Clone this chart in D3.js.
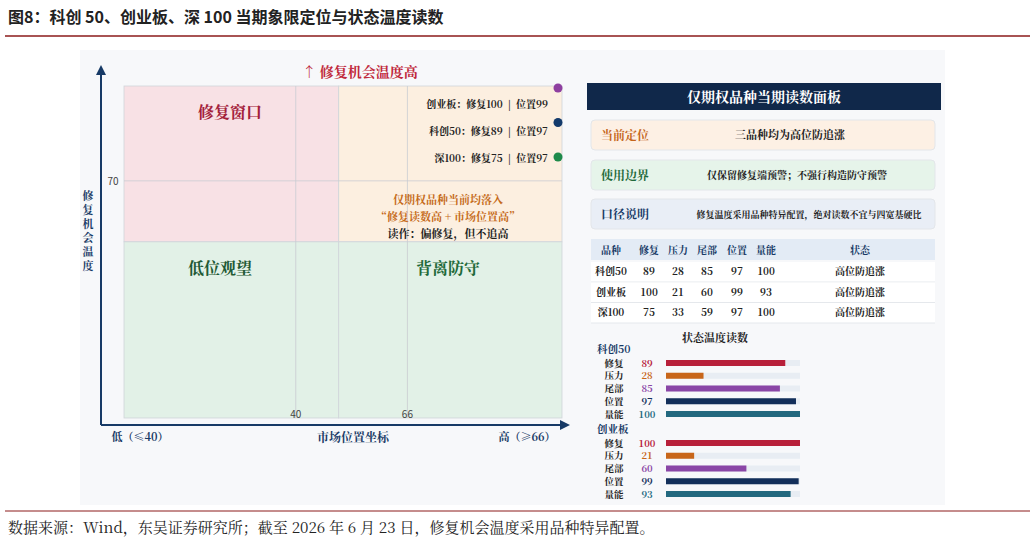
<!DOCTYPE html><html><head><meta charset="utf-8"><script src="https://cdn.jsdelivr.net/npm/d3@7"></script>
<style>body{margin:0;background:#fff}svg{font-family:"Noto Serif CJK SC","Noto Sans CJK SC",serif}</style></head><body>
<svg id="c" width="1034" height="545"></svg>
<script>
const products=["科创50","创业板","深100"];
const metrics=["修复","压力","尾部","位置","量能"];
const values={"科创50":[89,28,85,97,100],"创业板":[100,21,60,99,93],"深100":[75,33,59,97,100]};
const states=["高位防追涨","高位防追涨","高位防追涨"];
const dotOrder=["创业板","科创50","深100"];
const dotColors=["#8e3fa0","#133a6b","#1e8a4a"];
const barColors=["#b8203a","#c8661a","#8a46a6","#132f5a","#23697f"];
const xTicks=[40,66], yTicks=[70];
const F='"Noto Sans CJK SC",sans-serif';
const svg=d3.select("#c");
svg.append("text").attr("x",8).attr("y",23).attr("font-size",16).attr("font-weight","bold").attr("font-family",F).attr("fill","#222").text("图8：科创 50、创业板、深 100 当期象限定位与状态温度读数");
svg.append("line").attr("x1",5).attr("x2",1030).attr("y1",36).attr("y2",36).attr("stroke","#8b1a1a").attr("stroke-width",1.5);
svg.append("line").attr("x1",5).attr("x2",1030).attr("y1",511).attr("y2",511).attr("stroke","#8b1a1a").attr("stroke-width",1);
svg.append("text").attr("x",8).attr("y",533).attr("font-size",15).attr("fill","#222").text("数据来源：Wind，东吴证券研究所；截至 2026 年 6 月 23 日，修复机会温度采用品种特异配置。");
svg.append("rect").attr("x",80).attr("y",50).attr("width",865).attr("height",455).attr("fill","#f7f8fa");
const x=d3.scaleLinear().domain([0,102]).range([124,562]);
const y=d3.scaleLinear().domain([0,98]).range([418,86]);
const q=[[0,50,52,98,"#f8e1e5"],[50,102,52,98,"#fcefe0"],[0,50,0,52,"#e2f1e7"],[50,102,0,52,"#e2f1e7"]];
q.forEach(d=>svg.append("rect").attr("x",x(d[0])).attr("y",y(d[3])).attr("width",x(d[1])-x(d[0])).attr("height",y(d[2])-y(d[3])).attr("fill",d[4]).attr("stroke","#d0d4da").attr("stroke-width",0.8));
xTicks.forEach(t=>{svg.append("line").attr("x1",x(t)).attr("x2",x(t)).attr("y1",86).attr("y2",418).attr("stroke","#c9ccd2").attr("stroke-width",0.8);
 svg.append("text").attr("x",x(t)).attr("y",418).attr("text-anchor","middle").attr("font-size",10).attr("font-family",F).attr("fill","#444").text(t);});
yTicks.forEach(t=>{svg.append("line").attr("x1",124).attr("x2",562).attr("y1",y(t)).attr("y2",y(t)).attr("stroke","#c9ccd2").attr("stroke-width",0.8);
 svg.append("text").attr("x",113).attr("y",y(t)+4).attr("text-anchor","middle").attr("font-size",10).attr("font-family",F).attr("fill","#444").text(t);});
svg.append("defs").append("marker").attr("id","ar").attr("viewBox","0 0 10 10").attr("refX",5).attr("refY",5).attr("markerWidth",5).attr("markerHeight",5).attr("orient","auto-start-reverse").append("path").attr("d","M0,0L10,5L0,10z").attr("fill","#173a66");
svg.append("line").attr("x1",101).attr("y1",425).attr("x2",101).attr("y2",70).attr("stroke","#173a66").attr("stroke-width",2).attr("marker-end","url(#ar)");
svg.append("line").attr("x1",101).attr("y1",425).attr("x2",565).attr("y2",425).attr("stroke","#173a66").attr("stroke-width",2).attr("marker-end","url(#ar)");
svg.append("text").attr("x",140).attr("y",441).attr("text-anchor","middle").attr("font-size",11).attr("fill","#173a66").attr("font-weight","bold").text("低（≤40）");
svg.append("text").attr("x",353).attr("y",442).attr("text-anchor","middle").attr("font-size",12).attr("fill","#173a66").attr("font-weight","bold").text("市场位置坐标");
svg.append("text").attr("x",527).attr("y",441).attr("text-anchor","middle").attr("font-size",11).attr("fill","#173a66").attr("font-weight","bold").text("高（≥66）");
"修复机会温度".split("").forEach((c,i)=>svg.append("text").attr("x",88).attr("y",200+i*14).attr("text-anchor","middle").attr("font-size",11).attr("font-weight","bold").attr("fill","#173a66").text(c));
svg.append("text").attr("x",360).attr("y",77).attr("text-anchor","middle").attr("font-size",14).attr("font-weight","bold").attr("fill","#c0283a").text("↑ 修复机会温度高");
svg.append("text").attr("x",230).attr("y",118).attr("text-anchor","middle").attr("font-size",16).attr("font-weight","bold").attr("fill","#a3203a").text("修复窗口");
svg.append("text").attr("x",220).attr("y",274).attr("text-anchor","middle").attr("font-size",16).attr("font-weight","bold").attr("fill","#1f5a35").text("低位观望");
svg.append("text").attr("x",448).attr("y",274).attr("text-anchor","middle").attr("font-size",16).attr("font-weight","bold").attr("fill","#1f6a3a").text("背离防守");
[["仅期权品种当前均落入",204,"#c56a18"],["“修复读数高 + 市场位置高”",221,"#c56a18"],["读作：偏修复，但不追高",238,"#222"]].forEach(d=>svg.append("text").attr("x",448).attr("y",d[1]).attr("text-anchor","middle").attr("font-size",11).attr("font-weight","bold").attr("fill",d[2]).text(d[0]));
const ly=d3.scalePoint().domain(dotOrder).range([104,158]);
const dy=d3.scalePoint().domain(dotOrder).range([88,157]);
dotOrder.forEach((p,i)=>{const v=values[p];
 svg.append("text").attr("x",548).attr("y",ly(p)+4).attr("text-anchor","end").attr("font-size",10).attr("font-weight","bold").attr("fill","#222").attr("xml:space","preserve").text(`${p}：修复${v[0]}  |  位置${v[3]}`);
 svg.append("circle").attr("cx",558).attr("cy",dy(p)).attr("r",4.5).attr("fill",dotColors[i]);});
svg.append("rect").attr("x",587).attr("y",83).attr("width",354).attr("height",27).attr("fill","#10284a");
svg.append("text").attr("x",764).attr("y",102).attr("text-anchor","middle").attr("font-size",14).attr("font-weight","bold").attr("fill","#fff").text("仅期权品种当期读数面板");
[[120,"#fdf0e4","当前定位","#c5661a","三品种均为高位防追涨",790,11],[160,"#e6f4ea","使用边界","#1f6a3a","仅保留修复端预警；不强行构造防守预警",797,10],[199,"#e9eef6","口径说明","#173a66","修复温度采用品种特异配置，绝对读数不宜与四宽基硬比",809,9]].forEach(d=>{
 svg.append("rect").attr("x",591).attr("y",d[0]).attr("width",344).attr("height",30).attr("rx",4).attr("fill",d[1]).attr("stroke","#e3e6ea");
 svg.append("text").attr("x",601).attr("y",d[0]+20).attr("font-size",12).attr("font-weight","bold").attr("fill",d[3]).text(d[2]);
 svg.append("text").attr("x",d[5]).attr("y",d[0]+19).attr("text-anchor","middle").attr("font-size",d[6]).attr("font-weight","bold").attr("fill","#222").text(d[4]);});
const cols=[611,649,678,707,737,766,860];
svg.append("rect").attr("x",591).attr("y",239).attr("width",344).attr("height",21).attr("fill","#e3ebf5");
["品种",...metrics,"状态"].forEach((h,i)=>svg.append("text").attr("x",cols[i]).attr("y",254).attr("text-anchor","middle").attr("font-size",10).attr("font-weight","bold").attr("fill","#173a66").text(h));
const ry=d3.scalePoint().domain(products).range([275,316]);
products.forEach((p,k)=>{svg.append("rect").attr("x",591).attr("y",ry(p)-13).attr("width",344).attr("height",20).attr("fill","#fff");
 svg.append("line").attr("x1",591).attr("x2",935).attr("y1",ry(p)+7).attr("y2",ry(p)+7).attr("stroke","#e5e8ec");
 [p,...values[p],states[k]].forEach((t,i)=>svg.append("text").attr("x",cols[i]).attr("y",ry(p)).attr("text-anchor","middle").attr("font-size",10).attr("font-weight","bold").attr("fill","#222").text(t));});
svg.append("text").attr("x",715).attr("y",342).attr("text-anchor","middle").attr("font-size",11).attr("font-weight","bold").attr("fill","#222").text("状态温度读数");
const bx=d3.scaleLinear().domain([0,100]).range([666,800]);
[["科创50",353],["创业板",433]].forEach(([p,gy])=>{
 svg.append("text").attr("x",597).attr("y",gy).attr("font-size",10.5).attr("font-weight","bold").attr("fill","#173a66").text(p);
 const rb=d3.scalePoint().domain(metrics).range([gy+10,gy+61]);
 metrics.forEach((m,i)=>{const v=values[p][i],yy=rb(m);
  svg.append("text").attr("x",614).attr("y",yy+3.5).attr("text-anchor","middle").attr("font-size",9.5).attr("font-weight","bold").attr("fill","#222").text(m);
  svg.append("text").attr("x",647).attr("y",yy+3.5).attr("text-anchor","middle").attr("font-size",9.5).attr("font-weight","bold").attr("fill",barColors[i]).text(v);
  svg.append("rect").attr("x",bx(0)).attr("y",yy-3).attr("width",bx(100)-bx(0)).attr("height",6).attr("fill","#e8edf3");
  svg.append("rect").attr("x",bx(0)).attr("y",yy-3).attr("width",bx(v)-bx(0)).attr("height",6).attr("fill",barColors[i]);});});
</script></body></html>
